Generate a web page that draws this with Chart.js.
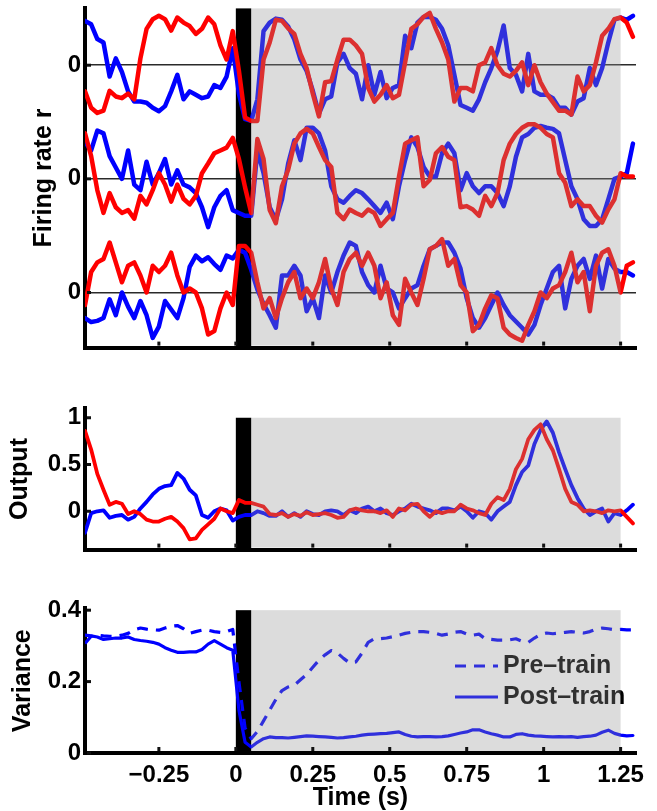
<!DOCTYPE html>
<html><head><meta charset="utf-8">
<script src="https://cdn.jsdelivr.net/npm/chart.js@4.4.1/dist/chart.umd.min.js"></script>
<style>
html,body{margin:0;padding:0;background:#fff;width:657px;height:811px;overflow:hidden;position:relative;}
.box{position:absolute;left:0;width:657px;}
</style></head><body>
<div class="box" style="top:-10px;height:376px"><canvas id="c1"></canvas></div>
<div class="box" style="top:390px;height:178px"><canvas id="c2"></canvas></div>
<div class="box" style="top:590px;height:221px"><canvas id="c3"></canvas></div>
<script>
// ---------- data ----------
const T = [-0.49,-0.47,-0.45,-0.43,-0.41,-0.39,-0.37,-0.35,-0.33,-0.31,
 -0.29,-0.27,-0.25,-0.23,-0.21,-0.19,-0.17,-0.15,-0.13,-0.11,
 -0.09,-0.07,-0.05,-0.03,-0.01,0.01,0.03,0.05,0.07,0.09,
 0.11,0.13,0.15,0.17,0.19,0.21,0.23,0.25,0.27,0.29,
 0.31,0.33,0.35,0.37,0.39,0.41,0.43,0.45,0.47,0.49,
 0.51,0.53,0.55,0.57,0.59,0.61,0.63,0.65,0.67,0.69,
 0.71,0.73,0.75,0.77,0.79,0.81,0.83,0.85,0.87,0.89,
 0.91,0.93,0.95,0.97,0.99,1.01,1.03,1.05,1.07,1.09,
 1.11,1.13,1.15,1.17,1.19,1.21,1.23,1.25,1.27,1.29];

// firing rates, neuron 1..3 (red = trial A, blue = trial B)
const RATE_RED_1 = [-0.46,-0.75,-0.84,-0.80,-0.45,-0.55,-0.58,-0.50,-0.60,0.12,
 0.64,0.81,0.87,0.81,0.61,0.84,0.75,0.69,0.55,0.64,
 0.84,0.72,0.35,0.10,0.60,-0.10,-0.92,-0.98,-0.98,0.10,
 0.40,0.80,0.78,0.65,0.55,0.20,-0.05,-0.50,-0.90,-0.30,
 -0.28,0.10,0.45,0.45,0.35,0.20,-0.40,-0.64,-0.52,-0.35,
 -0.58,-0.52,0.05,0.64,0.72,0.85,0.92,0.64,0.40,0.10,
 -0.64,-0.40,-0.40,-0.46,0.00,0.05,0.30,0.00,-0.15,-0.20,
 -0.10,0.05,-0.35,0.00,-0.30,-0.50,-0.65,-0.80,-0.80,-0.87,
 -0.20,-0.46,-0.35,0.05,0.52,0.64,0.81,0.84,0.75,0.50];
const RATE_BLUE_1 = [0.78,0.72,0.46,0.40,-0.20,0.12,-0.12,-0.46,-0.64,-0.64,
 -0.66,-0.75,-0.81,-0.72,-0.46,-0.17,-0.60,-0.46,-0.52,-0.58,
 -0.55,-0.35,-0.40,-0.20,0.30,-0.50,-0.95,-0.98,-0.60,0.60,
 0.75,0.82,0.80,0.68,0.45,0.10,-0.10,-0.45,-0.85,-0.60,
 -0.55,0.05,0.20,-0.05,-0.15,-0.60,0.00,-0.52,-0.12,-0.58,
 -0.40,-0.35,0.52,0.30,0.75,0.85,0.85,0.80,0.64,0.35,
 -0.17,-0.70,-0.75,-0.80,-0.60,-0.30,-0.05,0.25,0.70,-0.05,
 -0.17,-0.46,0.20,-0.46,-0.52,-0.52,-0.58,-0.75,-0.75,-0.87,
 -0.64,-0.58,-0.05,-0.35,-0.05,0.40,0.80,0.84,0.80,0.87];
const RATE_RED_2 = [0.80,0.40,-0.20,-0.60,-0.25,-0.50,-0.60,-0.55,-0.70,-0.30,
 -0.45,-0.20,0.10,-0.10,-0.40,-0.10,-0.35,-0.45,-0.30,0.10,
 0.27,0.45,0.50,0.55,0.72,0.35,-0.15,-0.60,0.70,0.35,
 -0.55,-0.78,-0.13,0.16,0.62,0.80,0.88,0.80,0.56,0.33,
 0.21,-0.60,-0.71,-0.54,-0.60,-0.65,-0.54,-0.60,-0.83,-0.71,
 -0.60,0.04,0.62,0.68,0.73,-0.13,-0.02,0.45,0.56,0.39,
 0.33,-0.50,-0.48,-0.54,-0.65,-0.30,-0.48,-0.25,0.33,0.62,
 0.79,0.90,0.96,0.96,0.90,0.79,0.73,0.10,-0.07,-0.48,
 -0.36,-0.48,-0.48,-0.65,-0.77,-0.54,-0.36,0.10,0.04,0.04];
const RATE_BLUE_2 = [0.65,0.50,0.85,0.80,0.40,0.20,0.00,0.50,-0.10,-0.20,
 0.30,-0.10,0.10,0.35,-0.10,0.15,-0.10,-0.15,-0.25,-0.50,
 -0.85,-0.50,-0.30,-0.20,-0.55,-0.60,-0.65,-0.65,0.50,0.10,
 -0.50,-0.72,-0.36,0.27,0.68,0.33,0.90,0.90,0.80,0.50,
 -0.13,-0.36,-0.42,-0.30,-0.20,-0.25,-0.36,-0.48,-0.60,-0.42,
 -0.71,-0.13,0.33,0.73,0.56,0.21,0.04,0.04,0.45,0.62,
 0.45,-0.20,0.10,-0.13,-0.25,-0.13,-0.13,-0.25,-0.48,-0.13,
 0.39,0.73,0.79,0.90,0.93,0.90,0.88,0.80,0.33,-0.13,
 -0.36,-0.71,-0.83,-0.83,-0.71,-0.36,0.00,0.04,0.10,0.62];
const RATE_RED_3 = [-0.22,0.36,0.53,0.59,0.88,0.53,0.18,0.47,0.53,0.30,
 0.00,0.47,0.36,0.47,0.70,0.30,0.00,0.07,0.00,-0.28,
 -0.74,-0.68,-0.28,0.00,-0.22,0.82,0.82,0.70,0.18,-0.28,
 -0.10,-0.45,-0.10,0.18,0.36,-0.10,0.07,-0.10,0.18,0.59,
 0.07,-0.22,0.36,0.59,0.70,0.47,0.70,0.47,-0.10,0.18,
 -0.40,-0.57,0.24,0.00,-0.22,0.24,0.76,0.82,0.94,0.47,
 0.59,0.13,0.00,-0.68,-0.57,-0.28,-0.05,-0.10,-0.62,-0.74,
 -0.80,-0.85,-0.57,-0.33,0.00,-0.10,0.07,0.13,0.36,0.70,
 0.18,0.36,-0.33,0.47,0.70,0.76,0.47,0.00,0.47,0.53];
const RATE_BLUE_3 = [-0.45,-0.52,-0.50,-0.45,-0.12,-0.40,0.00,-0.25,-0.45,-0.15,
 -0.40,-0.80,-0.60,-0.15,-0.30,-0.45,-0.10,0.45,0.65,0.55,
 0.62,0.50,0.40,0.65,0.60,0.75,0.70,0.40,0.05,-0.20,
 -0.40,-0.62,0.30,0.30,0.47,0.30,-0.33,-0.10,-0.45,0.30,
 0.00,0.36,0.65,0.88,0.82,0.36,0.13,0.00,0.47,0.07,
 0.00,-0.28,-0.10,0.07,0.13,0.47,0.76,0.82,0.88,0.88,
 0.70,0.42,-0.10,-0.45,-0.62,-0.45,-0.22,0.00,-0.22,-0.40,
 -0.51,-0.62,-0.74,-0.57,-0.22,0.07,0.36,0.47,-0.28,0.24,
 0.47,0.59,0.24,0.65,0.07,0.59,0.42,0.36,0.36,0.30];

const OUTPUT_RED = [0.86,0.66,0.40,0.23,0.07,0.10,0.08,-0.03,0.00,-0.03,
 -0.09,-0.11,-0.11,-0.08,-0.06,-0.11,-0.18,-0.30,-0.29,-0.20,
 -0.14,-0.08,0.03,0.00,-0.02,0.12,0.09,0.09,0.07,0.05,
 -0.03,-0.04,-0.02,-0.06,-0.03,-0.05,-0.01,-0.04,-0.03,-0.02,
 -0.04,-0.07,-0.06,0.01,0.03,0.01,0.00,0.00,-0.02,0.01,
 -0.06,0.03,0.01,0.07,0.08,0.00,-0.06,0.00,-0.02,0.00,
 0.00,0.07,0.03,0.01,-0.02,-0.04,0.08,0.15,0.12,0.24,
 0.45,0.56,0.77,0.87,0.93,0.77,0.65,0.45,0.24,0.10,
 0.07,0.00,0.01,0.00,-0.02,0.01,0.00,0.01,-0.06,-0.13];
const OUTPUT_BLUE = [-0.23,-0.02,0.00,0.01,-0.07,-0.05,-0.04,-0.09,-0.06,0.03,
 0.10,0.18,0.24,0.27,0.28,0.41,0.35,0.23,0.17,-0.04,
 -0.07,0.00,0.03,0.01,-0.10,-0.06,-0.04,-0.04,0.00,-0.02,
 -0.05,-0.05,0.00,-0.06,-0.02,-0.06,0.00,-0.03,-0.04,0.00,
 0.01,0.00,-0.04,0.01,-0.02,0.03,0.05,0.00,0.03,-0.02,
 -0.04,0.00,0.03,0.08,0.05,0.03,0.01,-0.02,0.03,0.03,
 0.01,0.05,0.00,-0.07,0.00,-0.02,-0.09,0.00,0.05,0.10,
 0.28,0.42,0.49,0.72,0.87,0.96,0.84,0.63,0.45,0.28,
 0.14,0.03,-0.04,0.00,0.03,-0.11,-0.02,-0.04,0.01,0.07];

const VARIANCE_PRE = [0.307,0.327,0.330,0.328,0.327,0.327,0.330,0.335,0.345,0.350,
 0.347,0.345,0.344,0.350,0.355,0.357,0.348,0.335,0.340,0.344,
 0.344,0.340,0.338,0.340,0.346,0.200,0.070,0.040,0.060,0.090,
 0.120,0.150,0.175,0.185,0.190,0.205,0.220,0.240,0.260,0.275,
 0.287,0.280,0.265,0.252,0.255,0.280,0.310,0.320,0.320,0.322,
 0.326,0.330,0.335,0.338,0.340,0.340,0.338,0.335,0.330,0.333,
 0.338,0.340,0.333,0.330,0.333,0.320,0.318,0.316,0.316,0.317,
 0.320,0.313,0.310,0.322,0.332,0.336,0.334,0.336,0.338,0.340,
 0.338,0.336,0.340,0.347,0.350,0.348,0.345,0.346,0.345,0.345];
const VARIANCE_POST = [0.330,0.328,0.325,0.318,0.320,0.322,0.322,0.325,0.318,0.315,
 0.313,0.310,0.305,0.295,0.288,0.282,0.282,0.283,0.283,0.290,
 0.305,0.315,0.305,0.295,0.288,0.120,0.030,0.017,0.030,0.040,
 0.045,0.043,0.043,0.042,0.044,0.046,0.048,0.047,0.046,0.045,
 0.044,0.042,0.043,0.045,0.047,0.050,0.052,0.053,0.054,0.055,
 0.057,0.059,0.052,0.047,0.045,0.046,0.046,0.045,0.046,0.048,
 0.052,0.056,0.059,0.065,0.065,0.059,0.054,0.050,0.045,0.045,
 0.052,0.054,0.050,0.048,0.047,0.046,0.045,0.046,0.045,0.046,
 0.044,0.046,0.047,0.050,0.058,0.064,0.055,0.050,0.048,0.049];

const X_TICKS = [-0.25,0,0.25,0.5,0.75,1,1.25];
const X_TICK_LABELS = ['\u22120.25','0','0.25','0.5','0.75','1','1.25'];
const RATE_OFFSETS = [0,-2,-4];
const RATE_TICKS = [-4,-2,0];
const RATE_TICK_LABELS = ['0','0','0'];
const OUTPUT_TICKS = [0,0.5,1];
const OUTPUT_TICK_LABELS = ['0','0.5','1'];
const VAR_TICKS = [0,0.2,0.4];
const VAR_TICK_LABELS = ['0','0.2','0.4'];
const STIM_WINDOW = [0,0.05];
const TEST_WINDOW = [0.05,1.25];
const LEGEND_LABELS = ['Pre\u2013train','Post\u2013train'];

// ---------- style ----------
const RED = '#ff0000', BLUE = '#0000ff';
const FONT = '"Liberation Sans", Arial, Helvetica, sans-serif';
Chart.defaults.font.family = FONT;
Chart.defaults.font.weight = 'bold';
Chart.defaults.font.size = 24;
Chart.defaults.color = '#000';

const pts = (ys, off) => T.map((t,i)=>({x:t, y:ys[i] + (off||0)}));

function xScale(height, showLabels){
  return {
    type:'linear', min:-0.49, max:1.3,
    afterBuildTicks: s => { s.ticks = X_TICKS.map(v=>({value:v})); },
    afterFit: s => { s.height = height; },
    grid:{display:false, drawTicks:false},
    border:{display:true, color:'#000', width:4},
    ticks:{display:showLabels, padding:8, maxRotation:0, autoSkip:false,
      font:{size:24, weight:'bold'},
      callback: v => X_TICK_LABELS[X_TICKS.indexOf(v)]},
    title:{display:showLabels, text:'Time (s)', font:{size:25, weight:'bold', lineHeight:1}, padding:{top:0,bottom:0}}
  };
}
function yScale(min, max, ticks, labels, title, tpad, grid){
  return {
    type:'linear', min:min, max:max,
    afterBuildTicks: s => { s.ticks = ticks.map(v=>({value:v})); },
    afterFit: s => { s.width = 85; },
    grid: grid ? {display:true, drawTicks:false, color:'#2a2a2a', lineWidth:1.5} : {display:false, drawTicks:false},
    border:{display:true, color:'#000', width:4},
    ticks:{padding:4, autoSkip:false, font:{size:24, weight:'bold'},
      callback: v => labels[ticks.indexOf(v)]},
    title:{display:true, text:title, font:{size:25, weight:'bold', lineHeight:1}, padding:{top:tpad, bottom:0}}
  };
}

function panelPlugin(shadeTop, yTicks, legend){
  return {
    id:'panel',
    beforeDatasetsDraw(chart){
      const {ctx, chartArea:a, scales:{x,y}} = chart;
      const top = y.getPixelForValue(shadeTop);
      const x0 = x.getPixelForValue(STIM_WINDOW[0]), x1 = x.getPixelForValue(STIM_WINDOW[1]);
      ctx.save(); ctx.fillStyle = '#000';
      ctx.fillRect(x0, top, x1-x0, a.bottom-top);
      ctx.restore();
    },
    afterDatasetsDraw(chart){
      const {ctx, chartArea:a, scales:{x,y}} = chart;
      ctx.save();
      if (legend) {
        const ds = chart.data.datasets;
        const rows = [[ds[0], 76], [ds[1], 107]];
        rows.forEach(([d, yy], i) => {
          ctx.strokeStyle = d.borderColor; ctx.lineWidth = d.borderWidth;
          ctx.setLineDash(d.borderDash || []);
          ctx.beginPath(); ctx.moveTo(455, yy); ctx.lineTo(498, yy); ctx.stroke();
          ctx.setLineDash([]);
          ctx.fillStyle = '#000'; ctx.font = 'bold 25px ' + FONT;
          ctx.textAlign = 'left'; ctx.textBaseline = 'middle';
          ctx.fillText(LEGEND_LABELS[i], 503, yy);
        });
      }
      // grey test-period overlay
      const top = y.getPixelForValue(shadeTop);
      const g0 = x.getPixelForValue(TEST_WINDOW[0]), g1 = x.getPixelForValue(TEST_WINDOW[1]);
      ctx.fillStyle = 'rgba(147,147,147,0.325)';
      ctx.fillRect(g0, top, g1-g0, a.bottom-2-top);
      // inward tick marks
      ctx.fillStyle = '#111';
      X_TICKS.forEach(v => { const px = x.getPixelForValue(v); ctx.fillRect(px-1.5, a.bottom-6, 3, 4); });
      yTicks.forEach(v => { const py = y.getPixelForValue(v); ctx.fillRect(a.left+2, py-1.5, 4, 3); });
      ctx.restore();
    }
  };
}

const common = {
  responsive:true, maintainAspectRatio:false, animation:false, devicePixelRatio:1, events:[],
  plugins:{legend:{display:false}, tooltip:{enabled:false}},
  elements:{point:{radius:0}, line:{tension:0, borderJoinStyle:'round', borderCapStyle:'round'}}
};

// ---------- panel 1: firing rates ----------
const reds = [RATE_RED_1, RATE_RED_2, RATE_RED_3];
const blues = [RATE_BLUE_1, RATE_BLUE_2, RATE_BLUE_3];
const rateSets = [];
reds.forEach((r,i)=>rateSets.push({data:pts(r, RATE_OFFSETS[i]), borderColor:RED, borderWidth:4.5}));
blues.forEach((b,i)=>rateSets.push({data:pts(b, RATE_OFFSETS[i]), borderColor:BLUE, borderWidth:4.5}));
new Chart(document.getElementById('c1'), {
  type:'line', data:{datasets:rateSets},
  options:Object.assign({}, common, {
    layout:{padding:{top:16, right:21, left:0, bottom:0}},
    scales:{x:xScale(16,false), y:yScale(-4.97, 1.0, RATE_TICKS, RATE_TICK_LABELS, 'Firing rate r', 32, true)}
  }),
  plugins:[panelPlugin(1.0, RATE_TICKS, false)]
});

// ---------- panel 2: output ----------
new Chart(document.getElementById('c2'), {
  type:'line', data:{datasets:[
    {data:pts(OUTPUT_RED), borderColor:RED, borderWidth:3.8},
    {data:pts(OUTPUT_BLUE), borderColor:BLUE, borderWidth:3.8}
  ]},
  options:Object.assign({}, common, {
    layout:{padding:{top:18, right:21, left:0, bottom:0}},
    scales:{x:xScale(16,false), y:yScale(-0.41, 1.1, OUTPUT_TICKS, OUTPUT_TICK_LABELS, 'Output', 8, false)}
  }),
  plugins:[panelPlugin(1.0, OUTPUT_TICKS, false)]
});

// ---------- panel 3: variance ----------
new Chart(document.getElementById('c3'), {
  type:'line', data:{datasets:[
    {label:LEGEND_LABELS[0], data:pts(VARIANCE_PRE), borderColor:BLUE, borderWidth:3.2, borderDash:[11,8], borderCapStyle:'butt'},
    {label:LEGEND_LABELS[1], data:pts(VARIANCE_POST), borderColor:BLUE, borderWidth:3.2}
  ]},
  options:Object.assign({}, common, {
    layout:{padding:{top:17, right:21, left:0, bottom:0}},
    scales:{x:xScale(58,true), y:yScale(0, 0.405, VAR_TICKS, VAR_TICK_LABELS, 'Variance', 11, false)}
  }),
  plugins:[panelPlugin(0.4, VAR_TICKS, true)]
});
</script>
</body></html>
